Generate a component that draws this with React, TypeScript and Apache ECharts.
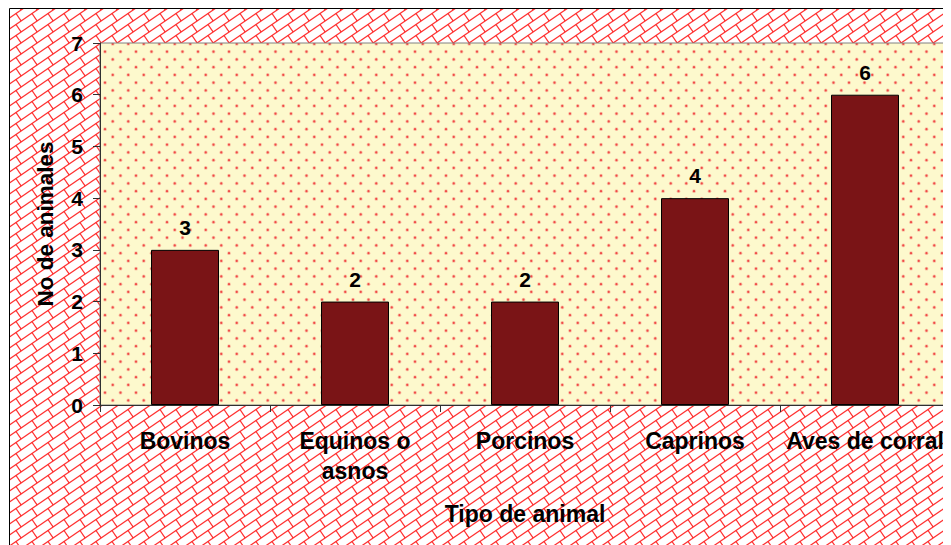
import React, { useEffect, useRef } from "react";
import * as echarts from "echarts";

const categories = ["Bovinos", "Equinos o\nasnos", "Porcinos", "Caprinos", "Aves de corral"];
const values = [3, 2, 2, 4, 6];
const yMin = 0;
const yMax = 7;
const yInterval = 1;
const xTitle = "Tipo de animal";
const yTitle = "No de animales";

const FONT = "'Liberation Sans', Arial, sans-serif";

function makeBrick(): HTMLCanvasElement {
  const W = 16, H = 11;
  const c = document.createElement("canvas");
  c.width = W;
  c.height = H;
  const ctx = c.getContext("2d")!;
  ctx.fillStyle = "#ffffff";
  ctx.fillRect(0, 0, W, H);
  ctx.strokeStyle = "rgba(255,25,25,0.9)";
  ctx.lineWidth = 1.25;
  const len = Math.hypot(W, H);
  const px = H / len, py = W / len;
  const d = (W * H) / len;
  const segs = [
    [0, H, W, 0],
    [W / 2, H / 2, W / 2 + px * d, H / 2 + py * d],
  ];
  for (const [x1, y1, x2, y2] of segs) {
    for (let ox = -1; ox <= 1; ox++) {
      for (let oy = -1; oy <= 1; oy++) {
        ctx.beginPath();
        ctx.moveTo(x1 + ox * W, y1 + oy * H);
        ctx.lineTo(x2 + ox * W, y2 + oy * H);
        ctx.stroke();
      }
    }
  }
  return c;
}

function makeDots(): HTMLCanvasElement {
  const T = 31;
  const c = document.createElement("canvas");
  c.width = T;
  c.height = T;
  const ctx = c.getContext("2d")!;
  ctx.fillStyle = "#FDF9CD";
  ctx.fillRect(0, 0, T, T);
  for (let r = 0; r < 4; r++) {
    const y = 4.95 + r * 7.75;
    const off = r % 2 === 0 ? 11.75 : 4;
    for (let k = 0; k < 2; k++) {
      const x = off + k * 15.5;
      ctx.fillStyle = "rgba(240,80,80,0.3)";
      ctx.beginPath();
      ctx.arc(x, y, 1.9, 0, Math.PI * 2);
      ctx.fill();
      ctx.fillStyle = "rgba(240,60,60,0.9)";
      ctx.beginPath();
      ctx.arc(x, y, 1.1, 0, Math.PI * 2);
      ctx.fill();
    }
  }
  return c;
}

export default function App() {
  const ref = useRef<HTMLDivElement>(null);
  useEffect(() => {
    if (!ref.current) return;
    const chart = echarts.init(ref.current, undefined, { renderer: "svg" });
    const brick = makeBrick();
    const dots = makeDots();
    chart.setOption({
      animation: false,
      graphic: [
        {
          type: "rect",
          z: -100,
          silent: true,
          shape: { x: 1.5, y: 0.5, width: 960, height: 560 },
          style: {
            fill: { image: brick, repeat: "repeat" },
            stroke: "#000",
            lineWidth: 1,
          },
        },
      ],
      grid: {
        left: 92,
        top: 35,
        right: 1,
        bottom: 140,
        show: true,
        backgroundColor: { image: dots, repeat: "repeat" },
        borderColor: "#808080",
        borderWidth: 1,
      },
      xAxis: {
        type: "category",
        data: categories,
        axisLine: { lineStyle: { color: "#303030", width: 1 } },
        axisTick: { show: true, alignWithLabel: false, length: 7, lineStyle: { color: "#303030" } },
        axisLabel: {
          interval: 0,
          margin: 21,
          fontSize: 23,
          fontWeight: "bold",
          color: "#000",
          fontFamily: FONT,
          lineHeight: 30,
        },
        name: xTitle,
        nameLocation: "middle",
        nameGap: 97,
        nameTextStyle: { fontSize: 23, fontWeight: "bold", color: "#000", fontFamily: FONT },
      },
      yAxis: {
        type: "value",
        min: yMin,
        max: yMax,
        interval: yInterval,
        axisLine: { show: true, lineStyle: { color: "#303030", width: 1 } },
        axisTick: { show: true, length: 7, lineStyle: { color: "#303030" } },
        splitLine: { show: false },
        axisLabel: {
          margin: 17,
          fontSize: 21,
          fontWeight: "bold",
          color: "#000",
          fontFamily: FONT,
        },
        name: yTitle,
        nameLocation: "middle",
        nameGap: 43,
        nameTextStyle: { fontSize: 22.5, fontWeight: "bold", color: "#000", fontFamily: FONT },
      },
      series: [
        {
          type: "bar",
          data: values,
          barWidth: "40%",
          itemStyle: { color: "#7A1416", borderColor: "#000", borderWidth: 1 },
          label: {
            show: true,
            position: "top",
            distance: 12,
            fontSize: 21,
            fontWeight: "bold",
            color: "#000",
            fontFamily: FONT,
          },
        },
      ],
    });
    return () => chart.dispose();
  }, []);
  return <div ref={ref} style={{ width: 943, height: 537 }} />;
}
